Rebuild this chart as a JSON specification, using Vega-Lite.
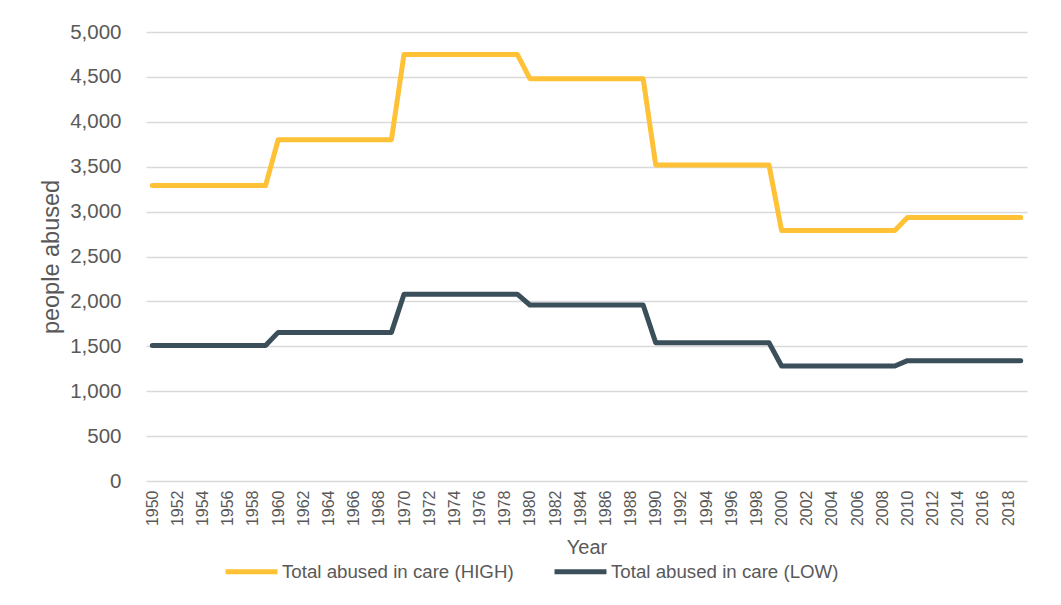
{
  "$schema": "https://vega.github.io/schema/vega-lite/v6.json",
  "autosize": "none",
  "width": 881,
  "height": 449,
  "padding": {"left": 146, "top": 32, "right": 34, "bottom": 124},
  "background": "white",
  "config": {
    "view": {"stroke": null},
    "font": "Liberation Sans",
    "axis": {"labelColor": "#595959", "titleColor": "#595959", "titleFontWeight": "normal", "labelFont": "Liberation Sans", "titleFont": "Liberation Sans"},
    "legend": {"labelColor": "#595959", "labelFont": "Liberation Sans"}
  },
  "datasets": {
    "d": [
      {"year":1950,"series":"Total abused in care (HIGH)","value":3290},
      {"year":1951,"series":"Total abused in care (HIGH)","value":3290},
      {"year":1952,"series":"Total abused in care (HIGH)","value":3290},
      {"year":1953,"series":"Total abused in care (HIGH)","value":3290},
      {"year":1954,"series":"Total abused in care (HIGH)","value":3290},
      {"year":1955,"series":"Total abused in care (HIGH)","value":3290},
      {"year":1956,"series":"Total abused in care (HIGH)","value":3290},
      {"year":1957,"series":"Total abused in care (HIGH)","value":3290},
      {"year":1958,"series":"Total abused in care (HIGH)","value":3290},
      {"year":1959,"series":"Total abused in care (HIGH)","value":3290},
      {"year":1960,"series":"Total abused in care (HIGH)","value":3800},
      {"year":1961,"series":"Total abused in care (HIGH)","value":3800},
      {"year":1962,"series":"Total abused in care (HIGH)","value":3800},
      {"year":1963,"series":"Total abused in care (HIGH)","value":3800},
      {"year":1964,"series":"Total abused in care (HIGH)","value":3800},
      {"year":1965,"series":"Total abused in care (HIGH)","value":3800},
      {"year":1966,"series":"Total abused in care (HIGH)","value":3800},
      {"year":1967,"series":"Total abused in care (HIGH)","value":3800},
      {"year":1968,"series":"Total abused in care (HIGH)","value":3800},
      {"year":1969,"series":"Total abused in care (HIGH)","value":3800},
      {"year":1970,"series":"Total abused in care (HIGH)","value":4750},
      {"year":1971,"series":"Total abused in care (HIGH)","value":4750},
      {"year":1972,"series":"Total abused in care (HIGH)","value":4750},
      {"year":1973,"series":"Total abused in care (HIGH)","value":4750},
      {"year":1974,"series":"Total abused in care (HIGH)","value":4750},
      {"year":1975,"series":"Total abused in care (HIGH)","value":4750},
      {"year":1976,"series":"Total abused in care (HIGH)","value":4750},
      {"year":1977,"series":"Total abused in care (HIGH)","value":4750},
      {"year":1978,"series":"Total abused in care (HIGH)","value":4750},
      {"year":1979,"series":"Total abused in care (HIGH)","value":4750},
      {"year":1980,"series":"Total abused in care (HIGH)","value":4480},
      {"year":1981,"series":"Total abused in care (HIGH)","value":4480},
      {"year":1982,"series":"Total abused in care (HIGH)","value":4480},
      {"year":1983,"series":"Total abused in care (HIGH)","value":4480},
      {"year":1984,"series":"Total abused in care (HIGH)","value":4480},
      {"year":1985,"series":"Total abused in care (HIGH)","value":4480},
      {"year":1986,"series":"Total abused in care (HIGH)","value":4480},
      {"year":1987,"series":"Total abused in care (HIGH)","value":4480},
      {"year":1988,"series":"Total abused in care (HIGH)","value":4480},
      {"year":1989,"series":"Total abused in care (HIGH)","value":4480},
      {"year":1990,"series":"Total abused in care (HIGH)","value":3520},
      {"year":1991,"series":"Total abused in care (HIGH)","value":3520},
      {"year":1992,"series":"Total abused in care (HIGH)","value":3520},
      {"year":1993,"series":"Total abused in care (HIGH)","value":3520},
      {"year":1994,"series":"Total abused in care (HIGH)","value":3520},
      {"year":1995,"series":"Total abused in care (HIGH)","value":3520},
      {"year":1996,"series":"Total abused in care (HIGH)","value":3520},
      {"year":1997,"series":"Total abused in care (HIGH)","value":3520},
      {"year":1998,"series":"Total abused in care (HIGH)","value":3520},
      {"year":1999,"series":"Total abused in care (HIGH)","value":3520},
      {"year":2000,"series":"Total abused in care (HIGH)","value":2790},
      {"year":2001,"series":"Total abused in care (HIGH)","value":2790},
      {"year":2002,"series":"Total abused in care (HIGH)","value":2790},
      {"year":2003,"series":"Total abused in care (HIGH)","value":2790},
      {"year":2004,"series":"Total abused in care (HIGH)","value":2790},
      {"year":2005,"series":"Total abused in care (HIGH)","value":2790},
      {"year":2006,"series":"Total abused in care (HIGH)","value":2790},
      {"year":2007,"series":"Total abused in care (HIGH)","value":2790},
      {"year":2008,"series":"Total abused in care (HIGH)","value":2790},
      {"year":2009,"series":"Total abused in care (HIGH)","value":2790},
      {"year":2010,"series":"Total abused in care (HIGH)","value":2935},
      {"year":2011,"series":"Total abused in care (HIGH)","value":2935},
      {"year":2012,"series":"Total abused in care (HIGH)","value":2935},
      {"year":2013,"series":"Total abused in care (HIGH)","value":2935},
      {"year":2014,"series":"Total abused in care (HIGH)","value":2935},
      {"year":2015,"series":"Total abused in care (HIGH)","value":2935},
      {"year":2016,"series":"Total abused in care (HIGH)","value":2935},
      {"year":2017,"series":"Total abused in care (HIGH)","value":2935},
      {"year":2018,"series":"Total abused in care (HIGH)","value":2935},
      {"year":2019,"series":"Total abused in care (HIGH)","value":2935},
      {"year":1950,"series":"Total abused in care (LOW)","value":1510},
      {"year":1951,"series":"Total abused in care (LOW)","value":1510},
      {"year":1952,"series":"Total abused in care (LOW)","value":1510},
      {"year":1953,"series":"Total abused in care (LOW)","value":1510},
      {"year":1954,"series":"Total abused in care (LOW)","value":1510},
      {"year":1955,"series":"Total abused in care (LOW)","value":1510},
      {"year":1956,"series":"Total abused in care (LOW)","value":1510},
      {"year":1957,"series":"Total abused in care (LOW)","value":1510},
      {"year":1958,"series":"Total abused in care (LOW)","value":1510},
      {"year":1959,"series":"Total abused in care (LOW)","value":1510},
      {"year":1960,"series":"Total abused in care (LOW)","value":1655},
      {"year":1961,"series":"Total abused in care (LOW)","value":1655},
      {"year":1962,"series":"Total abused in care (LOW)","value":1655},
      {"year":1963,"series":"Total abused in care (LOW)","value":1655},
      {"year":1964,"series":"Total abused in care (LOW)","value":1655},
      {"year":1965,"series":"Total abused in care (LOW)","value":1655},
      {"year":1966,"series":"Total abused in care (LOW)","value":1655},
      {"year":1967,"series":"Total abused in care (LOW)","value":1655},
      {"year":1968,"series":"Total abused in care (LOW)","value":1655},
      {"year":1969,"series":"Total abused in care (LOW)","value":1655},
      {"year":1970,"series":"Total abused in care (LOW)","value":2080},
      {"year":1971,"series":"Total abused in care (LOW)","value":2080},
      {"year":1972,"series":"Total abused in care (LOW)","value":2080},
      {"year":1973,"series":"Total abused in care (LOW)","value":2080},
      {"year":1974,"series":"Total abused in care (LOW)","value":2080},
      {"year":1975,"series":"Total abused in care (LOW)","value":2080},
      {"year":1976,"series":"Total abused in care (LOW)","value":2080},
      {"year":1977,"series":"Total abused in care (LOW)","value":2080},
      {"year":1978,"series":"Total abused in care (LOW)","value":2080},
      {"year":1979,"series":"Total abused in care (LOW)","value":2080},
      {"year":1980,"series":"Total abused in care (LOW)","value":1960},
      {"year":1981,"series":"Total abused in care (LOW)","value":1960},
      {"year":1982,"series":"Total abused in care (LOW)","value":1960},
      {"year":1983,"series":"Total abused in care (LOW)","value":1960},
      {"year":1984,"series":"Total abused in care (LOW)","value":1960},
      {"year":1985,"series":"Total abused in care (LOW)","value":1960},
      {"year":1986,"series":"Total abused in care (LOW)","value":1960},
      {"year":1987,"series":"Total abused in care (LOW)","value":1960},
      {"year":1988,"series":"Total abused in care (LOW)","value":1960},
      {"year":1989,"series":"Total abused in care (LOW)","value":1960},
      {"year":1990,"series":"Total abused in care (LOW)","value":1540},
      {"year":1991,"series":"Total abused in care (LOW)","value":1540},
      {"year":1992,"series":"Total abused in care (LOW)","value":1540},
      {"year":1993,"series":"Total abused in care (LOW)","value":1540},
      {"year":1994,"series":"Total abused in care (LOW)","value":1540},
      {"year":1995,"series":"Total abused in care (LOW)","value":1540},
      {"year":1996,"series":"Total abused in care (LOW)","value":1540},
      {"year":1997,"series":"Total abused in care (LOW)","value":1540},
      {"year":1998,"series":"Total abused in care (LOW)","value":1540},
      {"year":1999,"series":"Total abused in care (LOW)","value":1540},
      {"year":2000,"series":"Total abused in care (LOW)","value":1280},
      {"year":2001,"series":"Total abused in care (LOW)","value":1280},
      {"year":2002,"series":"Total abused in care (LOW)","value":1280},
      {"year":2003,"series":"Total abused in care (LOW)","value":1280},
      {"year":2004,"series":"Total abused in care (LOW)","value":1280},
      {"year":2005,"series":"Total abused in care (LOW)","value":1280},
      {"year":2006,"series":"Total abused in care (LOW)","value":1280},
      {"year":2007,"series":"Total abused in care (LOW)","value":1280},
      {"year":2008,"series":"Total abused in care (LOW)","value":1280},
      {"year":2009,"series":"Total abused in care (LOW)","value":1280},
      {"year":2010,"series":"Total abused in care (LOW)","value":1340},
      {"year":2011,"series":"Total abused in care (LOW)","value":1340},
      {"year":2012,"series":"Total abused in care (LOW)","value":1340},
      {"year":2013,"series":"Total abused in care (LOW)","value":1340},
      {"year":2014,"series":"Total abused in care (LOW)","value":1340},
      {"year":2015,"series":"Total abused in care (LOW)","value":1340},
      {"year":2016,"series":"Total abused in care (LOW)","value":1340},
      {"year":2017,"series":"Total abused in care (LOW)","value":1340},
      {"year":2018,"series":"Total abused in care (LOW)","value":1340},
      {"year":2019,"series":"Total abused in care (LOW)","value":1340}
    ]
  },
  "data": {"name": "d"},
  "mark": {"type": "line", "strokeWidth": 5, "strokeCap": "round", "strokeJoin": "round"},
  "encoding": {
    "x": {
      "field": "year",
      "type": "ordinal",
      "scale": {"padding": 0.5},
      "axis": {
        "title": "Year",
        "titleFontSize": 20,
        "titlePadding": 12,
        "labelAngle": -90,
        "labelFontSize": 16,
        "labelPadding": 9,
        "labelExpr": "datum.value % 2 === 0 ? datum.label : ''",
        "ticks": false,
        "domain": false,
        "grid": false
      }
    },
    "y": {
      "field": "value",
      "type": "quantitative",
      "scale": {"domain": [0, 5000]},
      "axis": {
        "title": "people abused",
        "titleFontSize": 23.5,
        "titlePadding": 6,
        "values": [0, 500, 1000, 1500, 2000, 2500, 3000, 3500, 4000, 4500, 5000],
        "format": ",.0f",
        "labelFontSize": 20.5,
        "labelPadding": 25,
        "ticks": false,
        "domain": false,
        "grid": true,
        "gridColor": "#D9D9D9",
        "gridWidth": 1.3
      }
    },
    "color": {
      "field": "series",
      "type": "nominal",
      "scale": {
        "domain": ["Total abused in care (HIGH)", "Total abused in care (LOW)"],
        "range": ["#FFC136", "#3B4F5A"]
      },
      "legend": {
        "title": null,
        "orient": "none",
        "direction": "horizontal",
        "legendX": 77,
        "legendY": 511,
        "symbolType": "stroke",
        "symbolSize": 2700,
        "symbolStrokeWidth": 5,
        "labelFontSize": 18.7,
        "labelLimit": 0,
        "labelOffset": 2,
        "columnPadding": 30,
        "padding": 0
      }
    }
  }
}
